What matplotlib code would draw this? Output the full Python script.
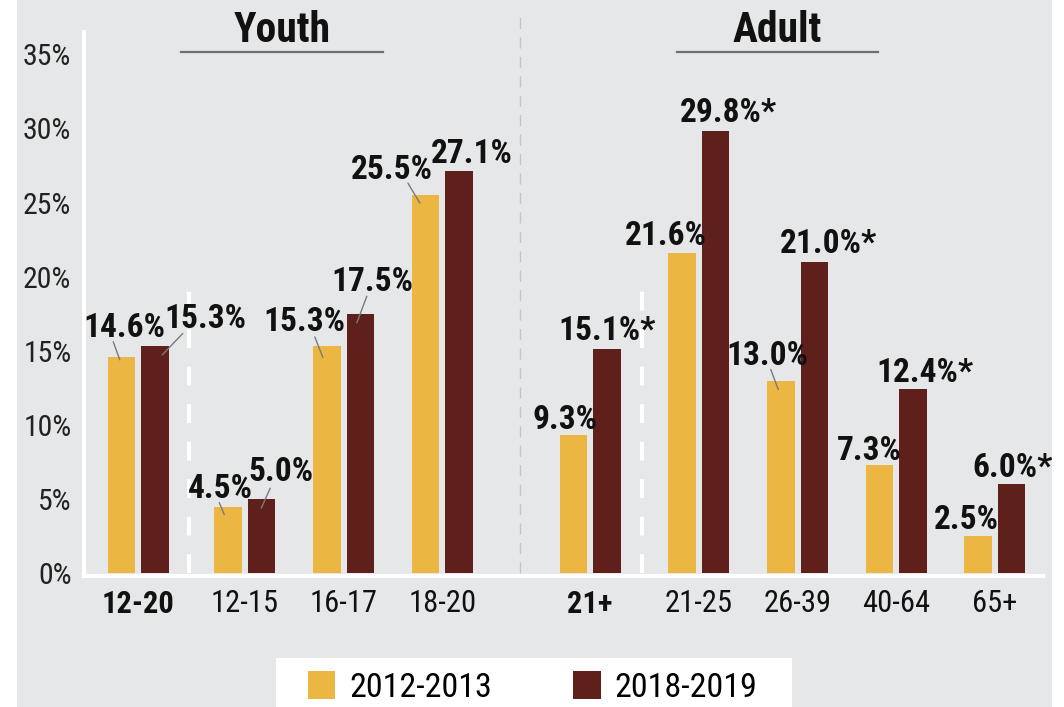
import matplotlib
matplotlib.use('Agg')
import matplotlib.pyplot as plt
from matplotlib.patches import Patch, Rectangle
from matplotlib.transforms import ScaledTranslation

plt.rcParams['font.family'] = ['Roboto Condensed', 'Open Sans Condensed', 'DejaVu Sans']
plt.rcParams['font.stretch'] = 'condensed'

# data
groups = ['12-20', '12-15', '16-17', '18-20', '21+', '21-25', '26-39', '40-64', '65+']
bold_groups = ['12-20', '21+']
series_names = ['2012-2013', '2018-2019']
vals_2012 = [14.6, 4.5, 15.3, 25.5, 9.3, 21.6, 13.0, 7.3, 2.5]
vals_2018 = [15.3, 5.0, 17.5, 27.1, 15.1, 29.8, 21.0, 12.4, 6.0]
star_2018 = [False, False, False, False, True, True, True, True, True]
yticks = [0, 5, 10, 15, 20, 25, 30, 35]

YELLOW = '#ecb643'
RED = '#5f1f1b'
BG = '#e6e7e8'

# layout: group x positions (irregular gaps between sections)
xpos = [0, 1.085, 2.085, 3.085, 4.585, 5.69, 6.69, 7.69, 8.69]
bw = 0.279
off = 0.17

# label offsets in pixels from bar top centre (text baseline), and leader lines
lab_off_2012 = [(3.5, 20), (-8, 9), (-22, 15), (-33.5, 16.5), (-8.5, 6), (-16, 7.5), (-13.5, 16), (-10, 5.5), (-12, 7)]
lab_off_2018 = [(50.5, 18), (19.5, 18.5), (12.5, 23), (12.5, 8), (0.5, 9), (12.5, 9), (14.5, 8.5), (12, 7), (1.5, 7)]
lead_2012 = [((-8, 15), (-1.5, -3)), ((-9, 4), (-4, -8)), ((-12, 9.5), (-4, -11)), ((-17.5, 12), (-5.5, -8)),
             None, None, ((-10, 11), (-2.5, -9)), None, None]
lead_2018 = [((28, 13), (7.5, -8.5)), ((8.5, 11), (-0.5, -9)), ((6.5, 17.5), (-3.5, -9)), None,
             None, None, None, None, None]

fig = plt.figure(figsize=(10.64, 7.07), dpi=100)
fig.patch.set_facecolor('white')
fig.add_artist(Rectangle((17 / 1064, 0), (1051.5 - 17) / 1064, 1, transform=fig.transFigure,
                         facecolor=BG, edgecolor='none', zorder=0))

ax = fig.add_axes([84 / 1064, (707 - 573.3) / 707, (1043 - 84) / 1064, (573.3 - 32) / 707])
ax.patch.set_visible(False)
ax.set_xlim(-0.548, 9.18)
ax.set_ylim(0, 36.5)

x1 = [x - off for x in xpos]
x2 = [x + off for x in xpos]
ax.bar(x1, vals_2012, bw, color=YELLOW, zorder=3)
ax.bar(x2, vals_2018, bw, color=RED, zorder=3)

# separators
ax.axvline(3.874, ymin=0, ymax=1.04, color='#c4c5c7', lw=1, ls=(0, (8, 6)), clip_on=False, zorder=1)
for xs in [0.517, 5.117]:
    ax.plot([xs, xs], [0, 20.25], color='white', lw=3, ls=(0, (4.5, 4.5)), zorder=2)


def offset_tr(dx, dy):
    return ax.transData + ScaledTranslation(dx / 100, dy / 100, fig.dpi_scale_trans)


def label(x, v, text, o, lead):
    ax.annotate(text, xy=(x, v), xytext=o, textcoords='offset pixels', ha='center', va='baseline',
                fontsize=24, fontweight='bold', color='#111111', zorder=5)
    if lead is not None:
        (sx, sy), (ex, ey) = lead
        ax.annotate('', xy=(x, v), xycoords=offset_tr(ex, ey), xytext=(sx - ex, sy - ey),
                    textcoords='offset pixels',
                    arrowprops=dict(arrowstyle='-', color='#7a7a7a', lw=1, shrinkA=0, shrinkB=0), zorder=6)


for i in range(len(groups)):
    label(x1[i], vals_2012[i], f'{vals_2012[i]:.1f}%', lab_off_2012[i], lead_2012[i])
    t = f'{vals_2018[i]:.1f}%' + ('*' if star_2018[i] else '')
    label(x2[i], vals_2018[i], t, lab_off_2018[i], lead_2018[i])

# axes styling
for s in ['top', 'right']:
    ax.spines[s].set_visible(False)
ax.spines['left'].set_color('white')
ax.spines['left'].set_linewidth(3)
ax.spines['bottom'].set_color('white')
ax.spines['bottom'].set_linewidth(3)
ax.spines['bottom'].set_position(('outward', 2))

ax.set_yticks(yticks, [f'{t}%' for t in yticks])
ax.tick_params(axis='y', length=0, pad=9, labelsize=21.5, labelcolor='#222222')
ax.set_xticks(xpos, groups)
ax.tick_params(axis='x', length=0, pad=9, labelsize=22, labelcolor='#111111')
for lab in ax.get_xticklabels():
    if lab.get_text() in bold_groups:
        lab.set_fontweight('bold')

# section headings
for name, cx in [('Youth', 1.46), ('Adult', 6.485)]:
    ax.text(cx, 0.9815, name, transform=ax.get_xaxis_transform(), ha='center', va='baseline',
            fontsize=30, fontweight='bold', color='#111111', clip_on=False)
    ax.plot([cx - 1.02, cx + 1.02], [0.963, 0.963], transform=ax.get_xaxis_transform(),
            color='#6e6e6e', lw=1.6, clip_on=False)

# legend
fig.add_artist(Rectangle((275.5 / 1064, 0), (792 - 275.5) / 1064, (707 - 658) / 707,
                         transform=fig.transFigure, facecolor='white', edgecolor='none', zorder=1))
handles = [Patch(facecolor=YELLOW, edgecolor='none'), Patch(facecolor=RED, edgecolor='none')]
fig.legend(handles, series_names, loc='center', bbox_to_anchor=(0.5005, 0.028), ncol=2, frameon=False,
           fontsize=24.5, handlelength=0.8, handleheight=0.9, handletextpad=0.4, columnspacing=2.4,
           borderpad=0, borderaxespad=0)

fig.savefig('out.png', dpi=100)
